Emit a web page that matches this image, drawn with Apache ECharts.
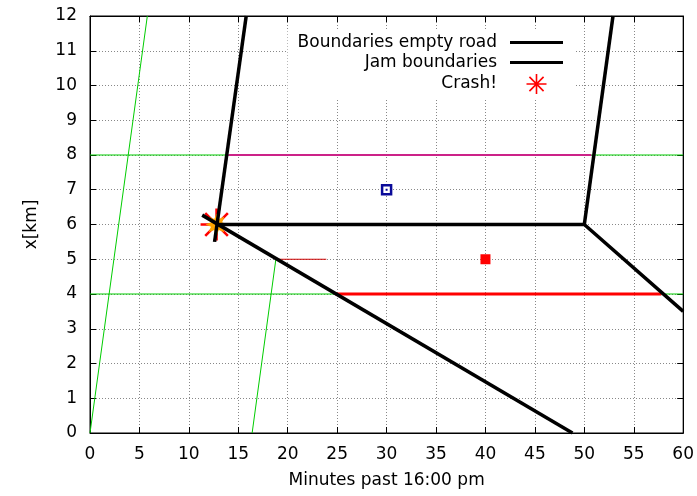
<!DOCTYPE html>
<html>
<head>
<meta charset="utf-8">
<script src="https://cdn.jsdelivr.net/npm/echarts@6/dist/echarts.min.js"></script>
<style>
  html, body { margin: 0; padding: 0; background: #fff; }
  #main { width: 697px; height: 496px; }
</style>
</head>
<body>
<div id="main"></div>
<script>
// 数据
const emptyRoadLeft = [[12.6, 5.5], [15.8, 12]];
const emptyRoadRight = [[50, 6], [52.9, 12]];
const jamTop = [[12.9, 6], [50, 6], [60, 3.5]];
const jamBottom = [[11.35, 6.27], [48.8, 0]];
const greenA = [[0, 0], [5.8, 12]];
const greenB = [[16.4, 0], [18.8, 5.0]];
const green4 = [[0, 4], [60, 4]];
const green8 = [[0, 8], [60, 8]];
const magenta8 = [[14.0, 8], [50.7, 8]];
const red4 = [[24.8, 4], [57.8, 4]];
const red5 = [[19.1, 5], [23.9, 5]];
const crashPoint = [[12.8, 6]];
const blueSquare = [[30, 7]];
const redSquare = [[40, 5]];

const legendNames = ['Boundaries empty road', 'Jam boundaries', 'Crash!'];

// 星号符号
const asterisk = 'path://M-10,-0.8 L10,-0.8 L10,0.8 L-10,0.8 Z ' +
    'M0.8,-10 L0.8,10 L-0.8,10 L-0.8,-10 Z ' +
    'M-6.5,-7.64 L7.64,6.5 L6.5,7.64 L-7.64,-6.5 Z ' +
    'M-7.64,6.5 L6.5,-7.64 L7.64,-6.5 L-6.5,7.64 Z';

// 橙色八角星
function starPath(n, rOut, rIn) {
    let d = '';
    for (let i = 0; i < n * 2; i++) {
        const r = i % 2 === 0 ? rOut : rIn;
        const a = Math.PI * i / n;
        d += (i === 0 ? 'M' : 'L') + (r * Math.cos(a)).toFixed(2) + ',' + (r * Math.sin(a)).toFixed(2) + ' ';
    }
    return 'path://' + d + 'Z';
}
const orangeStar = starPath(8, 10, 5.5);
const lineIcon = 'path://M0,0 L53,0 L53,3 L0,3 Z';

const chart = echarts.init(document.getElementById('main'));

function lineSeries(name, data, color, width) {
    return {
        name: name,
        type: 'line',
        data: data,
        showSymbol: false,
        symbol: 'none',
        color: color,
        itemStyle: {color: color},
        lineStyle: {color: color, width: width},
        silent: true
    };
}

const axisFont = {color: '#000', fontSize: 17, fontFamily: 'DejaVu Sans'};

const option = {
    animation: false,
    backgroundColor: '#fff',
    textStyle: {fontFamily: 'DejaVu Sans'},
    grid: {left: 90, right: 13, top: 16, bottom: 63, show: true, borderColor: '#000', borderWidth: 1},
    legend: {
        data: [
            {name: legendNames[0], icon: lineIcon},
            {name: legendNames[1], icon: lineIcon},
            {name: legendNames[2], icon: asterisk}
        ],
        orient: 'vertical',
        align: 'right',
        right: 122,
        top: 30,
        padding: [4, 12, 4, 10],
        itemWidth: 53,
        itemHeight: 20,
        itemGap: 3,
        backgroundColor: '#fff',
        selectedMode: false,
        textStyle: {color: '#000', fontSize: 17, fontFamily: 'DejaVu Sans', padding: [0, 8, 0, 0]}
    },
    xAxis: [{
        type: 'value', min: 0, max: 60, interval: 5, position: 'bottom',
        name: 'Minutes past 16:00 pm', nameLocation: 'middle', nameGap: 39,
        nameTextStyle: axisFont,
        axisLine: {show: true, onZero: false, lineStyle: {color: '#000', width: 1}},
        axisTick: {show: true, inside: true, length: 6, lineStyle: {color: '#000'}},
        axisLabel: Object.assign({margin: 13}, axisFont),
        splitLine: {show: true, lineStyle: {color: '#888', type: [1, 2]}}
    }, {
        type: 'value', min: 0, max: 60, interval: 5, position: 'top',
        axisLine: {show: true, onZero: false, lineStyle: {color: '#000'}},
        axisTick: {show: true, inside: true, length: 6, lineStyle: {color: '#000'}},
        axisLabel: {show: false},
        splitLine: {show: false}
    }],
    yAxis: [{
        type: 'value', min: 0, max: 12, interval: 1, position: 'left',
        name: 'x[km]', nameLocation: 'middle', nameGap: 50, nameRotate: 90,
        nameTextStyle: axisFont,
        axisLine: {show: true, onZero: false, lineStyle: {color: '#000', width: 1}},
        axisTick: {show: true, inside: true, length: 6, lineStyle: {color: '#000'}},
        axisLabel: Object.assign({margin: 13}, axisFont),
        splitLine: {show: true, lineStyle: {color: '#888', type: [1, 2]}}
    }, {
        type: 'value', min: 0, max: 12, interval: 1, position: 'right',
        axisLine: {show: true, onZero: false, lineStyle: {color: '#000'}},
        axisTick: {show: true, inside: true, length: 6, lineStyle: {color: '#000'}},
        axisLabel: {show: false},
        splitLine: {show: false}
    }],
    series: [
        lineSeries('greenA', greenA, '#00cc00', 1),
        lineSeries('greenB', greenB, '#00cc00', 1),
        lineSeries('green4', green4, '#00cc00', 1),
        lineSeries('green8', green8, '#00cc00', 1),
        lineSeries('magenta8', magenta8, '#cc2288', 2),
        lineSeries('red4', red4, '#ff0000', 3),
        lineSeries('red5', red5, '#cc0000', 1),
        lineSeries(legendNames[0], emptyRoadLeft, '#000', 3.5),
        lineSeries(legendNames[0], emptyRoadRight, '#000', 3.5),
        lineSeries(legendNames[1], jamTop, '#000', 3.5),
        lineSeries(legendNames[1], jamBottom, '#000', 3.5),
        {
            name: 'blueSquare', type: 'scatter', data: blueSquare,
            symbol: 'rect', symbolSize: 9,
            itemStyle: {color: '#fff', borderColor: '#0a0a99', borderWidth: 2.5, opacity: 1}
        },
        {
            name: 'blueDot', type: 'scatter', data: blueSquare,
            symbol: 'rect', symbolSize: 2, itemStyle: {color: '#0a0a99', opacity: 1}
        },
        {
            name: 'redSquare', type: 'scatter', data: redSquare,
            symbol: 'rect', symbolSize: 10, itemStyle: {color: '#ff0000', opacity: 1}
        },
        {
            name: legendNames[2], type: 'scatter', data: crashPoint,
            symbol: asterisk, symbolSize: 32, itemStyle: {color: '#ff0000', opacity: 1}
        },
        {
            name: 'crashStar', type: 'scatter', data: crashPoint,
            symbol: orangeStar, symbolSize: 22, itemStyle: {color: '#ffa500', opacity: 1}
        }
    ]
};

chart.setOption(option);
</script>
</body>
</html>
